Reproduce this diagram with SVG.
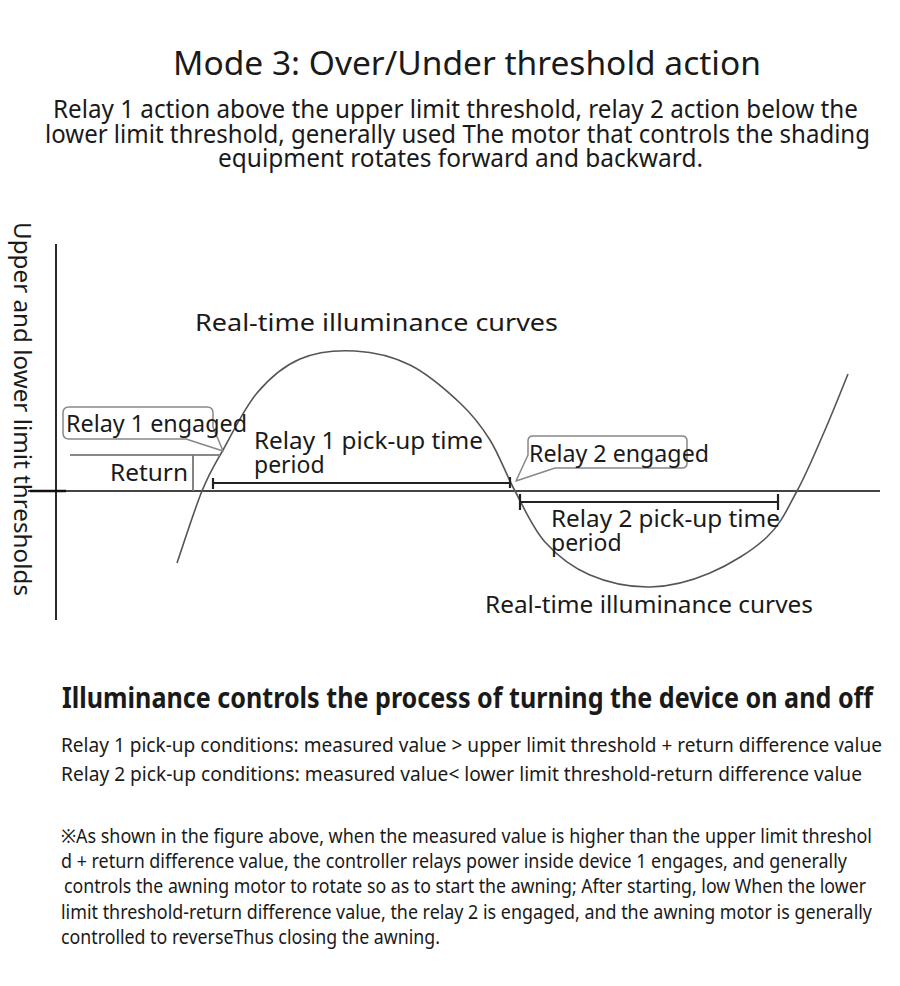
<svg xmlns="http://www.w3.org/2000/svg" width="900" height="986" viewBox="0 0 900 986">
<style>
.t{font-family:"Noto Sans","DejaVu Sans",sans-serif;fill:#1a1a1a}
.lbl{font-size:23px}
.txt{font-size:20px}
.axis{stroke:#2a2a2a;stroke-width:2;fill:none}
.curve{stroke:#555;stroke-width:1.6;fill:none}
.thin{stroke:#888;stroke-width:1.8;fill:none}
.bar{stroke:#222;stroke-width:2.2;fill:none}
.call{stroke:#888;stroke-width:1.5;fill:none;stroke-linejoin:round}
</style>
<rect width="900" height="986" fill="#fff"/>
<g id="header">
<text class="t" x="467" y="75" font-size="32" text-anchor="middle" textLength="588" lengthAdjust="spacingAndGlyphs">Mode 3: Over/Under threshold action</text>
<text class="t" x="455.5" y="118" font-size="26" text-anchor="middle" textLength="805" lengthAdjust="spacingAndGlyphs">Relay 1 action above the upper limit threshold, relay 2 action below the</text>
<text class="t" x="457.5" y="143" font-size="26" text-anchor="middle" textLength="825" lengthAdjust="spacingAndGlyphs">lower limit threshold, generally used The motor that controls the shading</text>
<text class="t" x="460.5" y="167" font-size="26" text-anchor="middle" textLength="485" lengthAdjust="spacingAndGlyphs">equipment rotates forward and backward.</text>
</g>
<g id="axes">
<line class="axis" x1="56" y1="244" x2="56" y2="620"/>
<line x1="28" y1="491" x2="880" y2="491" stroke="#444" stroke-width="2"/>
<line x1="30" y1="491" x2="66" y2="491" stroke="#111" stroke-width="2.5"/>
<text class="t" transform="translate(14,222) rotate(90)" font-size="24" textLength="374" lengthAdjust="spacingAndGlyphs">Upper and lower limit thresholds</text>
</g>
<g id="connectors">
<path id="curve" class="curve" d="M177,563 C181.2,551 194.3,509.8 202,491 C209.7,472.2 213.8,466.3 223,450 C232.2,433.7 244.2,408.2 257,393 C269.8,377.8 283.7,366 300,359 C316.3,352 336.7,350 355,351 C373.3,352 392.5,356.3 410,365 C427.5,373.7 446.7,390.5 460,403 C473.3,415.5 480.8,425.3 490,440 C499.2,454.7 505.8,474 515,491 C524.2,508 532.5,528 545,542 C557.5,556 572.5,567.5 590,575 C607.5,582.5 630,587.3 650,587 C670,586.7 690.5,581.3 710,573 C729.5,564.7 752.5,550.7 767,537 C781.5,523.3 787.3,508.8 797,491 C806.7,473.2 816.5,449.5 825,430 C833.5,410.5 844.2,383.3 848,374"/>
<line id="upper-threshold" class="thin" x1="70" y1="455" x2="220" y2="455"/>
<line id="return-line" stroke="#777" stroke-width="1.8" x1="193" y1="455" x2="193" y2="491"/>
<g id="relay1-period-bar" class="bar">
<line x1="213" y1="483" x2="510" y2="483"/>
<line x1="213" y1="478" x2="213" y2="489"/>
<line x1="510" y1="477" x2="510" y2="488"/>
</g>
<g id="relay2-period-bar" class="bar" stroke-width="2.6">
<line x1="520" y1="502" x2="778" y2="502"/>
<line x1="520" y1="494" x2="520" y2="510"/>
<line x1="778" y1="494" x2="778" y2="510"/>
</g>
</g>
<g id="relay1-engaged">
<path class="call" d="M69,407 H207 Q213,407 213,413 V427 L223,451 L186,439 H69 Q63,439 63,433 V413 Q63,407 69,407 Z"/>
<text class="t lbl" x="66" y="432" textLength="181" lengthAdjust="spacingAndGlyphs">Relay 1 engaged</text>
</g>
<g id="relay2-engaged">
<path class="call" d="M533,436 H682 Q687,436 687,441 V463 Q687,468 682,468 H555 L516,481 L528,455 V441 Q528,436 533,436 Z"/>
<text class="t lbl" x="529" y="462" textLength="180" lengthAdjust="spacingAndGlyphs">Relay 2 engaged</text>
</g>
<g id="return-label">
<text class="t lbl" x="110" y="481" textLength="78" lengthAdjust="spacingAndGlyphs">Return</text>
</g>
<g id="relay1-period">
<text class="t lbl" x="254" y="449" textLength="229" lengthAdjust="spacingAndGlyphs">Relay 1 pick-up time</text>
<text class="t lbl" x="254" y="473">period</text>
</g>
<g id="relay2-period">
<text class="t lbl" x="551" y="527" textLength="229" lengthAdjust="spacingAndGlyphs">Relay 2 pick-up time</text>
<text class="t lbl" x="551" y="551">period</text>
</g>
<g id="curve-labels">
<text class="t" x="195" y="331" font-size="23" textLength="363" lengthAdjust="spacingAndGlyphs">Real-time illuminance curves</text>
<text class="t" x="485" y="613" font-size="23" textLength="328" lengthAdjust="spacingAndGlyphs">Real-time illuminance curves</text>
</g>
<g id="explanation">
<text class="t" x="62" y="708" font-size="29" font-weight="bold" textLength="811" lengthAdjust="spacingAndGlyphs">Illuminance controls the process of turning the device on and off</text>
<text class="t txt" x="61" y="752" textLength="821" lengthAdjust="spacingAndGlyphs">Relay 1 pick-up conditions: measured value &gt; upper limit threshold + return difference value</text>
<text class="t txt" x="61" y="781" textLength="801" lengthAdjust="spacingAndGlyphs">Relay 2 pick-up conditions: measured value&lt; lower limit threshold-return difference value</text>
<text class="t" font-size="19" x="61" y="843" textLength="811" lengthAdjust="spacingAndGlyphs">※As shown in the figure above, when the measured value is higher than the upper limit threshol</text>
<text class="t" font-size="19" x="61" y="868" textLength="786" lengthAdjust="spacingAndGlyphs">d + return difference value, the controller relays power inside device 1 engages, and generally</text>
<text class="t" font-size="19" x="64" y="893" textLength="802" lengthAdjust="spacingAndGlyphs">controls the awning motor to rotate so as to start the awning; After starting, low When the lower</text>
<text class="t" font-size="19" x="61" y="919" textLength="811" lengthAdjust="spacingAndGlyphs">limit threshold-return difference value, the relay 2 is engaged, and the awning motor is generally</text>
<text class="t" font-size="19" x="61" y="944" textLength="379" lengthAdjust="spacingAndGlyphs">controlled to reverseThus closing the awning.</text>
</g>
</svg>
